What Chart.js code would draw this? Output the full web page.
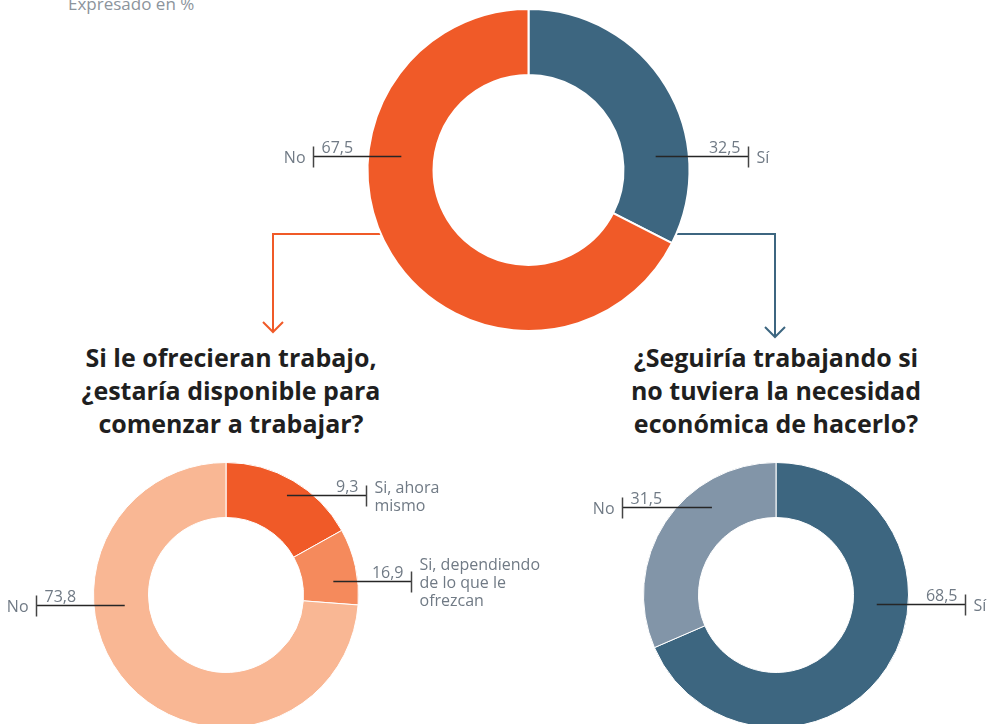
<!DOCTYPE html>
<html>
<head>
<meta charset="utf-8">
<script src="https://cdn.jsdelivr.net/npm/chart.js@4"></script>
<style>
  html, body { margin: 0; padding: 0; background: #fff; overflow: hidden; }
  body { width: 988px; height: 724px; position: relative; font-family: "Open Sans", sans-serif; }
  canvas { position: absolute; }
  #topChart { left: 0; top: 0; }
  #leftChart { left: 0; top: 440px; }
  #rightChart { left: 560px; top: 440px; }
  .note { position: absolute; left: 68px; top: -5px; font-size: 17px; line-height: 18px; color: #8c949c; }
  .title { position: absolute; width: 400px; text-align: center; font-weight: 700; font-size: 25px; line-height: 33px; color: #1f1f1f; }
</style>
</head>
<body>
<div class="note">Expresado en %</div>
<div class="title" style="left:31px; top:341px;">Si le ofrecieran trabajo,<br>¿estaría disponible para<br>comenzar a trabajar?</div>
<div class="title" style="left:576px; top:341px;">¿Seguiría trabajando si<br>no tuviera la necesidad<br>económica de hacerlo?</div>

<canvas id="topChart" width="988" height="345"></canvas>
<canvas id="leftChart" width="560" height="300"></canvas>
<canvas id="rightChart" width="428" height="300"></canvas>

<script>
// data
const topLabels = [['Sí'], ['No']];
const topValues = [32.5, 67.5];
const topColors = ['#3d6680', '#f05a28'];

const leftLabels = [['Si, ahora', 'mismo'], ['Si, dependiendo', 'de lo que le', 'ofrezcan'], ['No']];
const leftValues = [9.3, 16.9, 73.8];
// the source picture draws the dark arc at 16,9 and the mid one at 9,3
const leftArcs = [leftValues[1], leftValues[0], leftValues[2]];
const leftColors = ['#f05a28', '#f58a5c', '#f9b794'];

const rightLabels = [['Sí'], ['No']];
const rightValues = [68.5, 31.5];
const rightColors = ['#3d6680', '#8295a8'];

// where each leader line sits, relative to the doughnut centre
// side: which way the line runs, dy: line height, t: anchor between inner/outer radius, tick: end x
const topLeaders = [
  { side: 1, dy: -14.5, t: 0.5, tick: 219.5 },
  { side: -1, dy: -14.5, t: 0.5, tick: -215.5 }
];
const leftLeaders = [
  { side: 1, dy: -100, t: 0.72, tick: 140 },
  { side: 1, dy: -14.5, t: 0.56, tick: 185 },
  { side: -1, dy: 9.5, t: 0.44, tick: -190 }
];
const rightLeaders = [
  { side: 1, dy: 9, t: 0.43, tick: 189 },
  { side: -1, dy: -88, t: 0.57, tick: -154 }
];

const textGrey = '#707a85';
const labelFont = '16px "Open Sans", sans-serif';

function fmt(v) {
  return v.toFixed(1).replace('.', ',');
}

const leaderPlugin = {
  id: 'leaders',
  afterDatasetsDraw(chart, args, opts) {
    const ctx = chart.ctx;
    const arc = chart.getDatasetMeta(0).data[0];
    opts.items.forEach((l, i) => {
      const r = arc.innerRadius + l.t * (arc.outerRadius - arc.innerRadius);
      const ax = arc.x + l.side * Math.sqrt(r * r - l.dy * l.dy);
      const y = Math.round(arc.y + l.dy) + 0.5;
      const tx = Math.round(arc.x + l.tick) + 0.5;
      ctx.save();
      ctx.strokeStyle = '#262626';
      ctx.lineWidth = 1.3;
      ctx.beginPath();
      ctx.moveTo(ax, y);
      ctx.lineTo(tx, y);
      ctx.stroke();
      ctx.strokeStyle = '#444';
      ctx.lineWidth = 1.5;
      ctx.beginPath();
      ctx.moveTo(tx, y - 10);
      ctx.lineTo(tx, y + 11);
      ctx.stroke();

      ctx.font = labelFont;
      ctx.fillStyle = textGrey;
      ctx.textBaseline = 'alphabetic';
      ctx.textAlign = l.side > 0 ? 'right' : 'left';
      ctx.fillText(fmt(opts.values[i]), tx - l.side * 8, y - 4);

      const lines = opts.labels[i];
      ctx.textBaseline = 'middle';
      ctx.textAlign = l.side > 0 ? 'left' : 'right';
      const y0 = y + 2 - (lines.length - 1) * 9;
      lines.forEach((s, k) => {
        ctx.fillText(s, tx + l.side * 8, y0 + k * 18);
      });
      ctx.restore();
    });
  }
};

const arrowPlugin = {
  id: 'arrows',
  beforeDatasetsDraw(chart, args, opts) {
    if (!opts.items) return;
    const ctx = chart.ctx;
    const arc = chart.getDatasetMeta(0).data[0];
    const mid = (arc.innerRadius + arc.outerRadius) / 2;
    opts.items.forEach(a => {
      const dy = a.y - arc.y;
      const sx = arc.x + a.side * Math.sqrt(mid * mid - dy * dy);
      ctx.save();
      ctx.strokeStyle = a.color;
      ctx.lineWidth = 2;
      ctx.beginPath();
      ctx.moveTo(sx, a.y);
      ctx.lineTo(a.x, a.y);
      ctx.lineTo(a.x, a.tip);
      ctx.stroke();
      ctx.beginPath();
      ctx.moveTo(a.x - 10, a.tip - 10);
      ctx.lineTo(a.x, a.tip);
      ctx.lineTo(a.x + 10, a.tip - 10);
      ctx.stroke();
      ctx.restore();
    });
  }
};

function makeDoughnut(id, labels, values, arcs, colors, leaders, padding, cutout, border, arrows) {
  return new Chart(document.getElementById(id), {
    type: 'doughnut',
    data: {
      labels: labels,
      datasets: [{
        data: arcs,
        backgroundColor: colors,
        borderColor: '#ffffff',
        borderWidth: border,
        hoverOffset: 0
      }]
    },
    options: {
      responsive: false,
      animation: false,
      cutout: cutout,
      layout: { padding: padding },
      events: [],
      plugins: {
        legend: { display: false },
        tooltip: { enabled: false },
        leaders: { items: leaders, values: values, labels: labels },
        arrows: { items: arrows }
      }
    },
    plugins: [arrowPlugin, leaderPlugin]
  });
}

makeDoughnut('topChart', topLabels, topValues, topValues, topColors, topLeaders,
  { left: 69, right: 0, top: 8, bottom: 13 }, '59%', 2,
  [
    { side: -1, x: 273, y: 234, tip: 332, color: '#f05a28' },
    { side: 1, x: 775, y: 234, tip: 337, color: '#3d6680' }
  ]);

makeDoughnut('leftChart', leftLabels, leftValues, leftArcs, leftColors, leftLeaders,
  { left: 0, right: 108, top: 22, bottom: 12 }, '58.5%', 1, null);

makeDoughnut('rightChart', rightLabels, rightValues, rightValues, rightColors, rightLeaders,
  { left: 4, right: 0, top: 22, bottom: 12 }, '58.5%', 1, null);
</script>
</body>
</html>
